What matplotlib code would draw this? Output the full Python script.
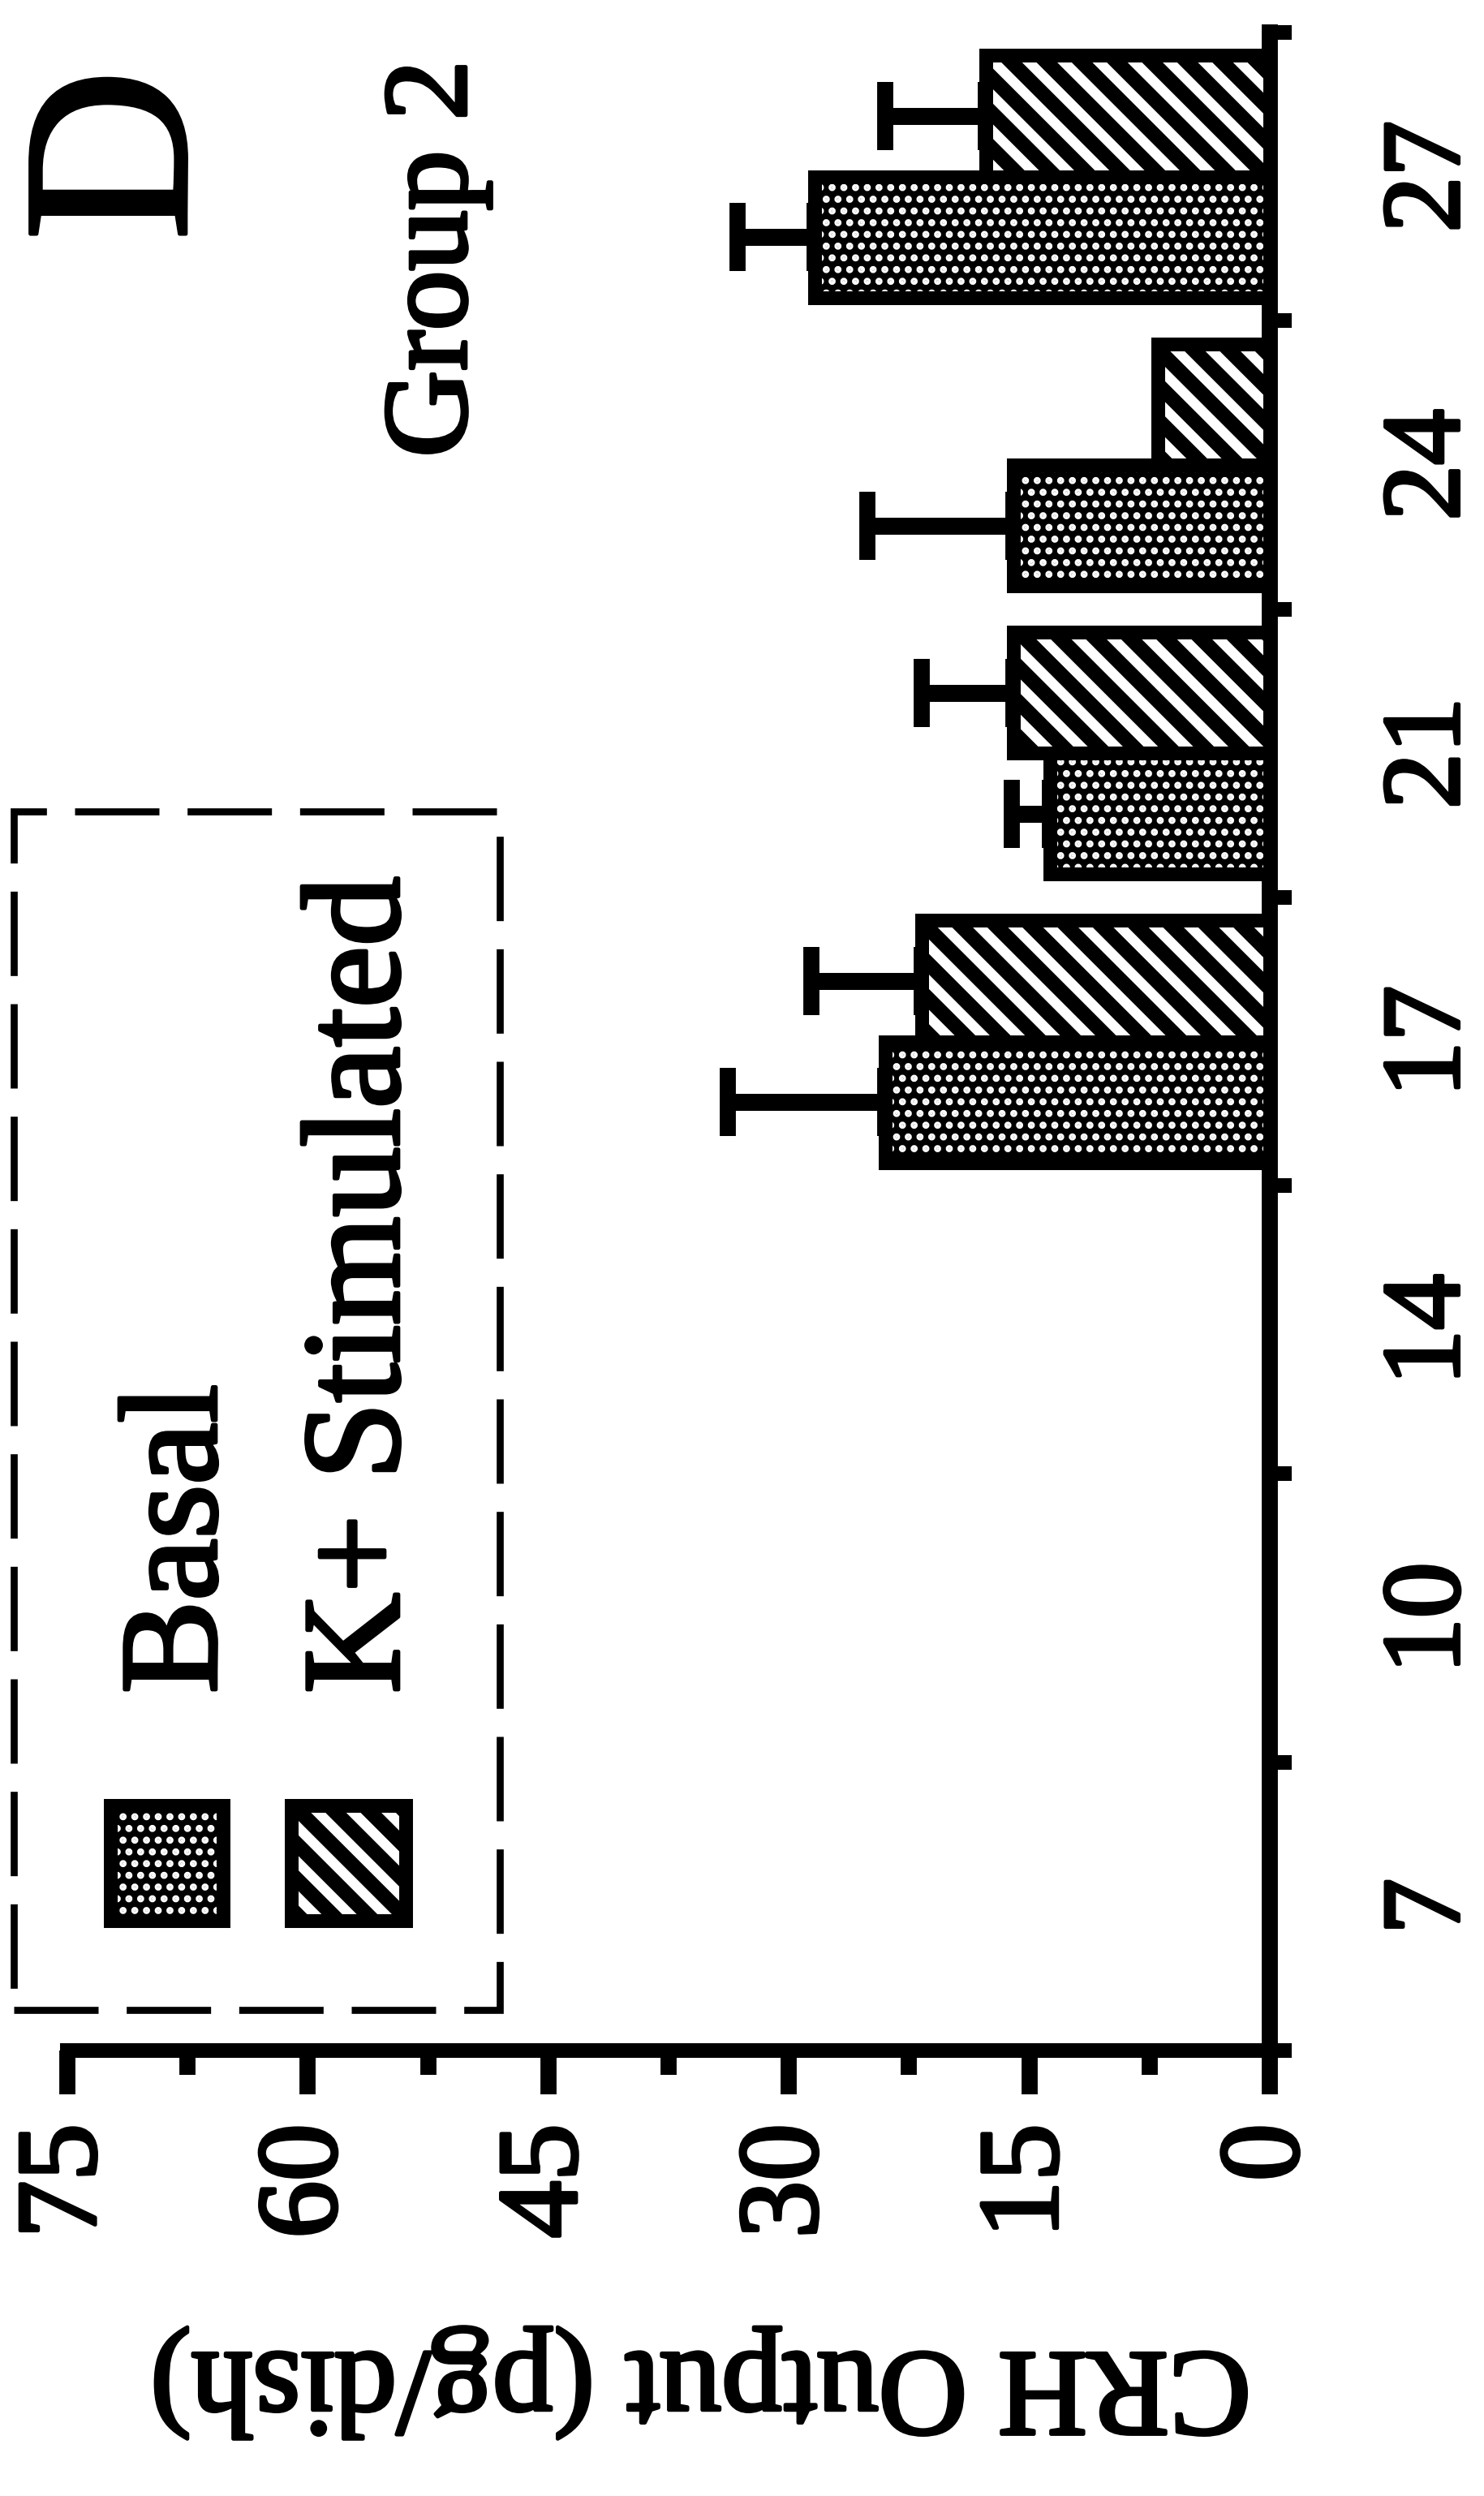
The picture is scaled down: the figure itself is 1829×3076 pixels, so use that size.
import numpy as np
import matplotlib
matplotlib.use("Agg")
import matplotlib.pyplot as plt
import matplotlib.patheffects as pe
from matplotlib.patches import Rectangle

plt.rcParams['font.family'] = ['Liberation Serif', 'DejaVu Serif']

# data (culture day, CRH output pg/dish), 0 = not measured
days = [7, 10, 14, 17, 21, 24, 27]
basal = [0, 0, 0, 24.0, 13.7, 16.0, 28.4]
basal_err = [0, 0, 0, 9.8, 2.4, 9.1, 4.8]
kstim = [0, 0, 0, 21.7, 16.0, 7.0, 17.7]
kstim_err = [0, 0, 0, 6.9, 5.7, 0, 6.3]
value_ticks = [0, 15, 30, 45, 60, 75]

W, H, DPI = 1829, 3076, 260
fig = plt.figure(figsize=(W / DPI, H / DPI), dpi=DPI)
ax = fig.add_axes([83 / W, (H - 2527) / H, 1482 / W, 2487 / H])

bold = [pe.withStroke(linewidth=1.3, foreground='black')]


def set_hlw(patches, lw):
    for p in patches:
        if hasattr(p, 'set_hatch_linewidth'):
            p.set_hatch_linewidth(lw)


pos = np.arange(len(days))
basal = np.array(basal)
kstim = np.array(kstim)
basal_err = np.array(basal_err)
kstim_err = np.array(kstim_err)
mb = basal > 0
mk = kstim > 0
bh = 0.42
off = 0.21

# basal: black bar, white dot texture, black outline
ax.barh(pos[mb] - off, basal[mb], height=bh, color='black', lw=0, zorder=2)
dots = ax.barh(pos[mb] - off, basal[mb], height=bh, facecolor='none',
               edgecolor='white', hatch='...', lw=0, zorder=3)
set_hlw(dots, 1.6)
ax.barh(pos[mb] - off, basal[mb], height=bh, facecolor='none',
        edgecolor='black', lw=4.7, zorder=4)

# K+ stimulated: hatched
stripes = ax.barh(pos[mk] + off, kstim[mk], height=bh, facecolor='white',
                  edgecolor='black', hatch='\\\\', lw=4.7, zorder=4)
set_hlw(stripes, 5.0)

eb = basal_err > 0
ax.errorbar(basal[eb], pos[eb] - off, xerr=[np.zeros(eb.sum()), basal_err[eb]],
            fmt='none', ecolor='black', elinewidth=5.8, capsize=11.5,
            capthick=5.5, zorder=1)
ek = kstim_err > 0
ax.errorbar(kstim[ek], pos[ek] + off, xerr=[np.zeros(ek.sum()), kstim_err[ek]],
            fmt='none', ecolor='black', elinewidth=5.8, capsize=11.5,
            capthick=5.5, zorder=1)

ax.set_xlim(75, 0)
ax.set_ylim(-0.5, len(days) - 0.5)

for s in ['left', 'top']:
    ax.spines[s].set_visible(False)
ax.spines['right'].set_linewidth(5.5)
ax.spines['bottom'].set_linewidth(5.0)

ax.set_xticks(value_ticks)
ax.set_xticks(np.arange(7.5, 75, 15), minor=True)
ax.tick_params(axis='x', which='major', length=15, width=5.5, pad=10,
               labelsize=39, labelrotation=90)
ax.tick_params(axis='x', which='minor', length=8.3, width=5.5)

ax.yaxis.tick_right()
ax.set_yticks(pos)
ax.set_yticklabels(days)
ax.set_yticks(np.arange(-0.5, len(days), 1), minor=True)
ax.tick_params(axis='y', which='major', length=0, pad=38, labelsize=38)
ax.tick_params(axis='y', which='minor', length=7.5, width=5, direction='out')
plt.setp(ax.get_yticklabels(), rotation=90, va='center', path_effects=bold)
plt.setp(ax.get_xticklabels(), path_effects=bold)

ax.set_xlabel('CRH Output (pg/dish)', fontsize=42, rotation=180, path_effects=bold)
ax.xaxis.set_label_coords((864 - 83) / 1482, -(2937 - 2527) / 2487)
ax.xaxis.label.set_va('center')

# panel letter and group
fig.text(229 / W, 1 - 191 / H, 'D', fontsize=81, rotation=90,
         rotation_mode='anchor', ha='center', va='baseline', path_effects=bold)
fig.text(574 / W, 1 - 319 / H, 'Group 2', fontsize=41, rotation=90,
         rotation_mode='anchor', ha='center', va='baseline', path_effects=bold)

# legend (rotated with the chart)
box = Rectangle((17 / W, 1 - 2477 / H), 599 / W, 1477 / H, transform=fig.transFigure,
                fill=False, ec='black', lw=2.4, ls=(0, (12, 4)))
fig.patches.append(box)

bx, by, bw, bhh = 136 / W, 1 - 2367 / H, 139 / W, 142 / H
fig.patches.append(Rectangle((bx, by), bw, bhh, transform=fig.transFigure,
                             color='black', lw=0))
leg_dots = Rectangle((bx, by), bw, bhh, transform=fig.transFigure,
                     facecolor='none', edgecolor='white', hatch='...', lw=0)
set_hlw([leg_dots], 1.6)
fig.patches.append(leg_dots)
fig.patches.append(Rectangle((bx, by), bw, bhh, transform=fig.transFigure,
                             facecolor='none', edgecolor='black', lw=4.7))
leg_str = Rectangle((359 / W, by), 141 / W, bhh, transform=fig.transFigure,
                    facecolor='white', edgecolor='black', hatch='\\\\', lw=4.7)
set_hlw([leg_str], 5.0)
fig.patches.append(leg_str)

fig.text(266 / W, 1 - 2087 / H, 'Basal', fontsize=47.5, rotation=90,
         rotation_mode='anchor', ha='left', va='baseline', path_effects=bold)
fig.text(491 / W, 1 - 2087 / H, 'K+ Stimulated', fontsize=47.5, rotation=90,
         rotation_mode='anchor', ha='left', va='baseline', path_effects=bold)

fig.savefig('out.png', dpi=DPI, facecolor='white')
